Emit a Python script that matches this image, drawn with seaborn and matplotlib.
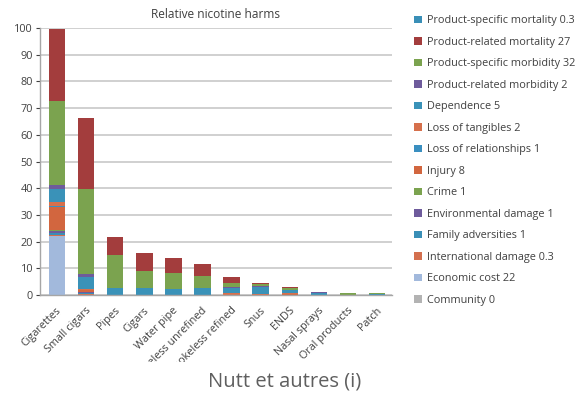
import numpy as np
import pandas as pd
import matplotlib
matplotlib.use("Agg")
import matplotlib.pyplot as plt
from matplotlib.transforms import Bbox, TransformedBbox, ScaledTranslation
import seaborn as sns

categories = ["Cigarettes", "Small cigars", "Pipes", "Cigars", "Water pipe",
              "Smokeless unrefined", "Smokeless refined", "Snus", "ENDS",
              "Nasal sprays", "Oral products", "Patch"]

# legend order (top of stack first)
series_labels = [
    "Product-specific mortality 0.3",
    "Product-related mortality 27",
    "Product-specific morbidity 32",
    "Product-related morbidity 2",
    "Dependence 5",
    "Loss of tangibles 2",
    "Loss of relationships 1",
    "Injury 8",
    "Crime 1",
    "Environmental damage 1",
    "Family adversities 1",
    "International damage 0.3",
    "Economic cost 22",
    "Community 0",
]

psm        = [0.2, 0.2, 0, 0.3, 0, 0, 0, 0, 0, 0, 0, 0]
prm        = [26.8, 26.5, 6.7, 6.5, 5.3, 4.3, 2.1, 0.6, 0.6, 0, 0, 0]
psmorb     = [31.5, 31.8, 12.5, 6.5, 6.3, 4.7, 1.5, 0.8, 0.5, 0, 0.8, 0.6]
prmorb     = [1.5, 1.2, 0, 0, 0, 0, 0.3, 0.2, 0, 0.3, 0, 0]
dependence = [5.0, 4.6, 2.3, 2.4, 1.6, 2.3, 2.2, 2.6, 1.4, 0.9, 0.1, 0.2]
loss_tang  = [1.2, 0.2, 0, 0, 0, 0, 0.1, 0, 0.2, 0, 0, 0]
loss_rel   = [0.5, 0.2, 0, 0, 0, 0, 0, 0, 0, 0, 0, 0]
injury     = [8.7, 0.5, 0, 0, 0, 0, 0.3, 0.2, 0.3, 0, 0, 0]
crime      = [0.5, 0.2, 0, 0, 0, 0, 0, 0, 0, 0, 0, 0]
environ    = [0.5, 0.3, 0, 0, 0.2, 0, 0, 0, 0, 0, 0, 0]
family     = [1.0, 0.5, 0.2, 0.2, 0.3, 0.2, 0, 0, 0, 0, 0, 0]
intl       = [0.3, 0.2, 0, 0, 0, 0, 0.2, 0.2, 0.1, 0, 0, 0]
economic   = [22, 0, 0, 0, 0, 0, 0, 0, 0, 0, 0, 0]
community  = [0, 0, 0, 0, 0, 0, 0, 0, 0, 0, 0, 0]

series_values = [psm, prm, psmorb, prmorb, dependence, loss_tang, loss_rel,
                 injury, crime, environ, family, intl, economic, community]

colors = ["#3A8FB7", "#A33D3D", "#7BA34F", "#6E5B9C", "#3A92B8", "#D6704C",
          "#3A8FC0", "#D2663F", "#7BA34F", "#6E5B9C", "#3A8FB7", "#D4704F",
          "#A2B9DC", "#B3B3B3"]

rows = []
for lab, vals in zip(series_labels, series_values):
    for c, v in zip(categories, vals):
        rows.append({"product": c, "harm": lab, "value": v})
df = pd.DataFrame(rows)
df["product"] = pd.Categorical(df["product"], categories=categories, ordered=True)
df["x"] = df["product"].cat.codes

sns.set_style("white")
plt.rcParams["font.family"] = ["Open Sans", "DejaVu Sans"]

fig = plt.figure(figsize=(5.82, 3.96), dpi=100)
ax = fig.add_axes([40/582, 1-295/396, (392-40)/582, (295-28)/396])

sns.histplot(data=df, x="x", weights="value", hue="harm",
             hue_order=series_labels, palette=colors, multiple="stack",
             discrete=True, shrink=0.57, edgecolor="none", linewidth=0,
             alpha=1, ax=ax, legend=True)

ax.set_xlim(-0.58, 11.51)
ax.set_ylim(0, 100)
ax.set_yticks(np.arange(0, 101, 10))
ax.set_xticks(range(len(categories)))
ax.set_xticklabels(categories, rotation=45, ha="right", va="center",
                   rotation_mode="anchor")
ax.tick_params(axis="x", labelsize=7.8, colors="#404040", length=0, pad=10)
ax.tick_params(axis="y", labelsize=7.8, colors="#404040", length=3, width=0.8,
               left=True, pad=2)
ax.yaxis.grid(True, color="#D0D0D0", linewidth=1.4)
ax.set_axisbelow(True)
for s in ["top", "right"]:
    ax.spines[s].set_visible(False)
for s in ["left", "bottom"]:
    ax.spines[s].set_color("#A6A6A6")
    ax.spines[s].set_linewidth(1.0)
ax.set_xlabel("")
ax.set_ylabel("")
ax.set_title("Relative nicotine harms", fontsize=8.6, color="#404040", pad=7)

# labels shifted slightly right and cut off at the bottom like the source image
clip = TransformedBbox(Bbox([[0, 1-362/396], [1, 1]]), fig.transFigure)
shift = ScaledTranslation(3/100, 0, fig.dpi_scale_trans)
for lbl in ax.get_xticklabels():
    lbl.set_transform(lbl.get_transform() + shift)
    lbl.set_clip_box(clip)
    lbl.set_clip_on(True)

sns.move_legend(ax, loc="upper left", bbox_to_anchor=(410/582, 1-11/396),
                bbox_transform=fig.transFigure, frameon=False, title=None,
                fontsize=7.8, handlelength=0.7, handleheight=0.7,
                handletextpad=0.45, labelspacing=0.97, borderaxespad=0)
leg = ax.get_legend()
for t in leg.get_texts():
    t.set_color("#404040")

fig.text(285/582, 1-382/396, "Nutt et autres (i)", fontsize=14.5, color="#5F5F5F",
         ha="center", va="center")

fig.savefig("out.png", dpi=100)
